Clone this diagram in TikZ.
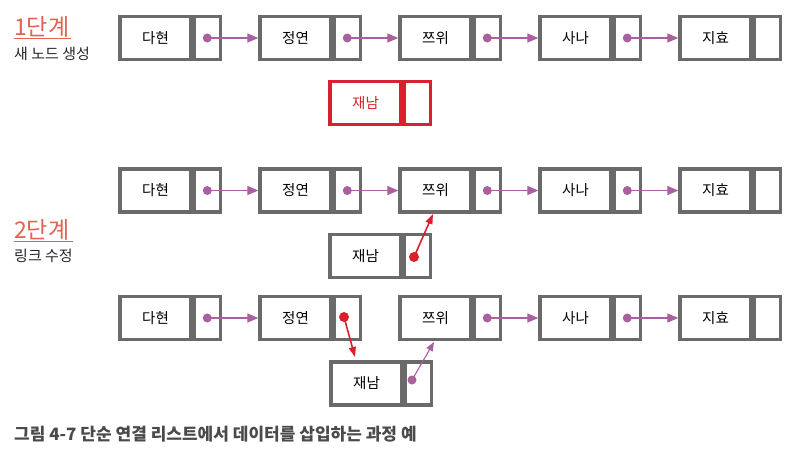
\documentclass[tikz,border=0pt]{standalone}
\usepackage{fontspec}
\setmainfont{Noto Sans CJK KR}
\usetikzlibrary{arrows.meta}
\definecolor{boxgray}{HTML}{6A6A6A}
\definecolor{lnk}{HTML}{A9609F}
\definecolor{redc}{HTML}{D8202E}
\definecolor{stepc}{HTML}{E5614F}
\definecolor{capc}{HTML}{4A4A4A}
\tikzset{
  datapart/.style={draw=boxgray, line width=3.3pt, minimum width=71pt, minimum height=43pt, inner sep=0pt, font=\fontsize{14.5pt}{16pt}\selectfont, text=black},
  linkpart/.style={draw=boxgray, line width=3.3pt, minimum width=26pt, minimum height=43pt, inner sep=0pt, anchor=west},
  reddata/.style={datapart, draw=redc, text=redc},
  redlink/.style={linkpart, draw=redc},
  plink/.style={draw=lnk, line width=1.1pt, -{Triangle[length=11pt,width=9pt]}},
  rlink/.style={draw=redc, line width=1.6pt, -{Triangle[length=10pt,width=7pt]}},
  pdot/.style={circle, fill=lnk, inner sep=0pt, minimum size=9pt},
  rdot/.style={circle, fill=redc, inner sep=0pt, minimum size=10pt},
  steptitle/.style={anchor=base west, inner sep=0pt, text=stepc, font=\fontsize{23pt}{25pt}\selectfont},
  stepsub/.style={anchor=base west, inner sep=0pt, text=black!85, font=\fontsize{15pt}{17pt}\selectfont},
}
\begin{document}
\begin{tikzpicture}[x=1pt,y=-1pt]
\useasboundingbox (0,0) rectangle (797,456);
% labels
\node[steptitle] (s1) at (14,35) {1단계};
\draw[stepc, line width=0.8pt] (14,38.5) -- (71,38.5);
\node[stepsub] (s1b) at (14,59.5) {새 노드 생성};
\node[steptitle] (s2) at (14,238) {2단계};
\draw[stepc, line width=0.8pt] (14,241.5) -- (73,241.5);
\node[stepsub] (s2b) at (14,261.5) {링크 수정};
% Row 1
\foreach \i/\L/\t in {1/120/다현,2/260/정연,3/400/쯔위,4/540/사나,5/680/지효}{
  \node[datapart] (a\i) at (\L+35.5,38) {\t};
  \node[linkpart] (al\i) at (a\i.east) {};
}
\node[reddata] (an) at (330+35.5,103) {재남};
\node[redlink] (anl) at (an.east) {};
\foreach \i/\j in {1/2,2/3,3/4,4/5}{
  \node[pdot] (ad\i) at (al\i.center) {};
  \draw[plink] (ad\i.center) -- (a\j.west);
}
% Row 2
\foreach \i/\L/\t in {1/120/다현,2/260/정연,3/400/쯔위,4/540/사나,5/680/지효}{
  \node[datapart] (b\i) at (\L+35.5,190.5) {\t};
  \node[linkpart] (bl\i) at (b\i.east) {};
}
\node[datapart] (bn) at (330+35.5,256) {재남};
\node[linkpart] (bnl) at (bn.east) {};
\foreach \i/\j in {1/2,2/3,3/4,4/5}{
  \node[pdot] (bd\i) at (bl\i.center) {};
  \draw[plink] (bd\i.center) -- (b\j.west);
}
\node[rdot] (bnd) at (414,257) {};
\coordinate (bt) at (433,214);
\draw[rlink] (bnd.center) -- (bt);
% Row 3
\foreach \i/\L/\t in {1/120/다현,2/260/정연,3/400/쯔위,4/540/사나,5/680/지효}{
  \node[datapart] (c\i) at (\L+35.5,318) {\t};
  \node[linkpart] (cl\i) at (c\i.east) {};
}
\node[datapart] (cn) at (331+35.5,383.5) {재남};
\node[linkpart] (cnl) at (cn.east) {};
\foreach \i/\j in {1/2,3/4,4/5}{
  \node[pdot] (cd\i) at (cl\i.center) {};
  \draw[plink] (cd\i.center) -- (c\j.west);
}
\node[rdot] (cd2) at (344,317) {};
\coordinate (ct) at (355,357);
\draw[rlink] (cd2.center) -- (ct);
\node[pdot] (cnd) at (412,380) {};
\coordinate (cu) at (434,342);
\draw[plink, -{Triangle[length=9pt,width=7pt]}] (cnd.center) -- (cu);
% caption
\node[anchor=base west, inner sep=0pt, text=capc, font=\bfseries\fontsize{17pt}{19pt}\selectfont] (cap) at (14,440) {그림 4-7 단순 연결 리스트에서 데이터를 삽입하는 과정 예};
\end{tikzpicture}
\end{document}
